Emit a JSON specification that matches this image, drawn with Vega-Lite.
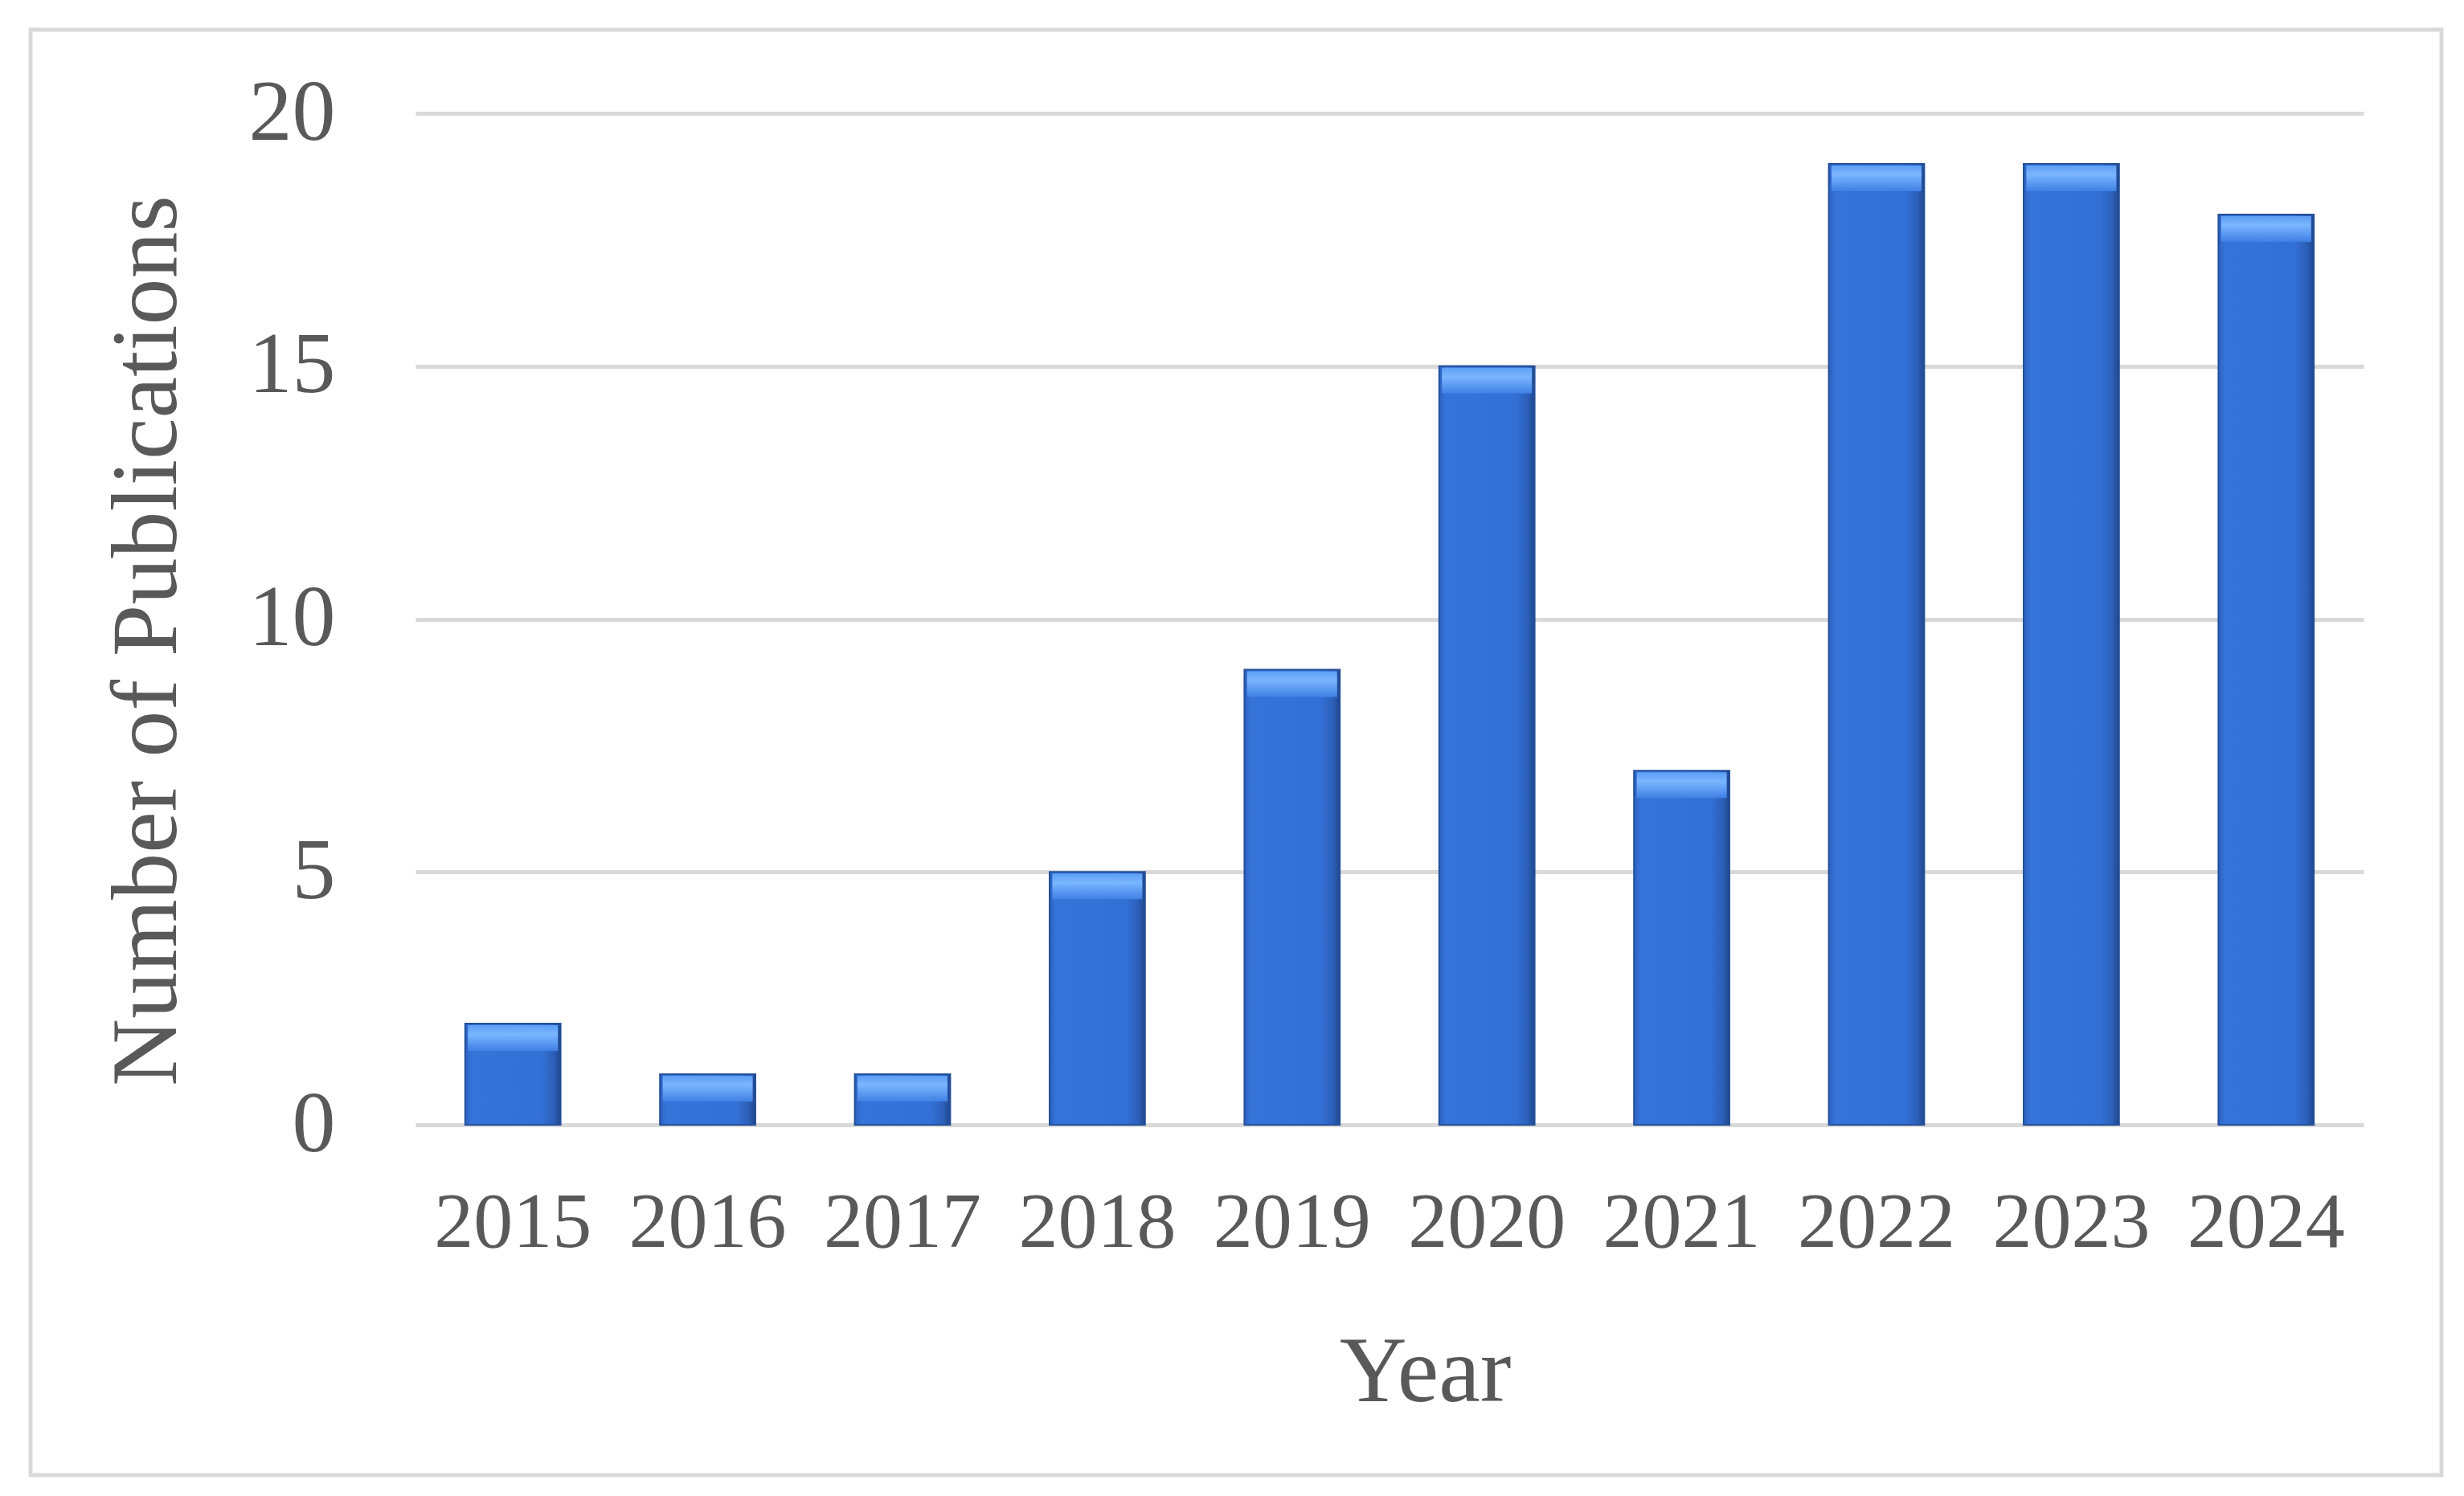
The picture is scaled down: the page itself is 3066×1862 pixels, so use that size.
{
  "$schema": "https://vega.github.io/schema/vega-lite/v6.json",
  "width": 3000,
  "height": 1799,
  "autosize": {"type": "none"},
  "padding": {"left": 38, "top": 37, "right": 28, "bottom": 26},
  "background": "white",
  "config": {
    "view": {"stroke": "#d9d9d9", "strokeWidth": 5},
    "font": "Liberation Serif"
  },
  "data": {
    "values": [
      {"Year": "2015", "Publications": 2},
      {"Year": "2016", "Publications": 1},
      {"Year": "2017", "Publications": 1},
      {"Year": "2018", "Publications": 5},
      {"Year": "2019", "Publications": 9},
      {"Year": "2020", "Publications": 15},
      {"Year": "2021", "Publications": 7},
      {"Year": "2022", "Publications": 19},
      {"Year": "2023", "Publications": 19},
      {"Year": "2024", "Publications": 18}
    ]
  },
  "encoding": {
    "x": {
      "field": "Year",
      "type": "ordinal",
      "scale": {"range": [479, 2903], "paddingInner": 0.51, "paddingOuter": 0.255},
      "axis": {
        "title": "Year",
        "labelAngle": 0,
        "labelLimit": 0,
        "labelOverlap": false,
        "domain": false,
        "ticks": false,
        "tickSize": 0,
        "grid": false,
        "offset": -436,
        "labelFont": "Liberation Serif",
        "labelFontSize": 98,
        "labelColor": "#595959",
        "labelBaseline": "alphabetic",
        "labelPadding": 151,
        "titleFont": "Liberation Serif",
        "titleFontSize": 116,
        "titleFontWeight": "normal",
        "titleColor": "#595959",
        "titleX": 1735,
        "titleY": 343,
        "titleBaseline": "alphabetic",
        "titleAlign": "center"
      }
    },
    "y": {
      "field": "Publications",
      "type": "quantitative",
      "scale": {"domain": [0, 20], "range": [1363, 104], "nice": false},
      "axis": {
        "title": "Number of Publications",
        "values": [0, 5, 10, 15, 20],
        "domain": false,
        "ticks": false,
        "tickSize": 0,
        "offset": -479,
        "grid": true,
        "gridColor": "#d9d9d9",
        "gridWidth": 5,
        "labelFont": "Liberation Serif",
        "labelFontSize": 108,
        "labelLimit": 0,
        "labelColor": "#595959",
        "labelPadding": 100,
        "titleFont": "Liberation Serif",
        "titleFontSize": 116,
        "titleFontWeight": "normal",
        "titleColor": "#595959",
        "titleAngle": 270,
        "titleX": -299,
        "titleY": 760,
        "titleBaseline": "alphabetic",
        "titleAlign": "center"
      }
    }
  },
  "layer": [
    {
      "mark": {
        "type": "bar",
        "stroke": "#24509a",
        "strokeWidth": 2,
        "color": {
          "gradient": "linear",
          "x1": 0, "y1": 0, "x2": 1, "y2": 0,
          "stops": [
            {"offset": 0, "color": "#2c62c0"},
            {"offset": 0.07, "color": "#3674da"},
            {"offset": 0.8, "color": "#3370d6"},
            {"offset": 0.93, "color": "#2c5fb8"},
            {"offset": 1, "color": "#20478c"}
          ]
        }
      }
    },
    {
      "mark": {
        "type": "tick",
        "orient": "horizontal",
        "size": 112,
        "thickness": 32,
        "yOffset": 18,
        "opacity": 1,
        "color": {
          "gradient": "linear",
          "x1": 0, "y1": 0, "x2": 0, "y2": 1,
          "stops": [
            {"offset": 0, "color": "#5c9ef4"},
            {"offset": 0.35, "color": "#7ab6ff"},
            {"offset": 1, "color": "#3f80e4"}
          ]
        }
      }
    }
  ]
}
